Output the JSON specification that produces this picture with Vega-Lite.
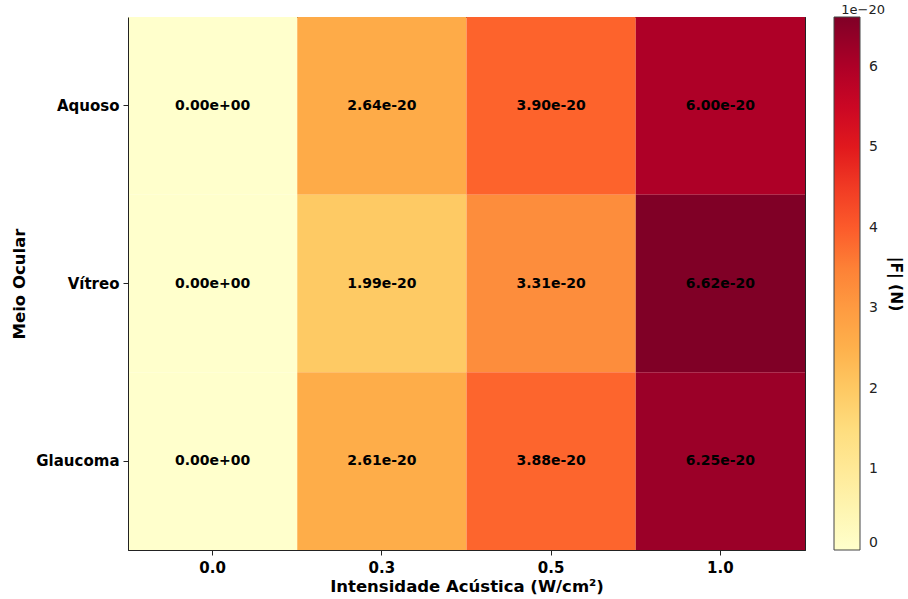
{
  "$schema": "https://vega.github.io/schema/vega-lite/v6.json",
  "autosize": {"type": "none"},
  "padding": {"left": 128, "top": 17, "right": 103, "bottom": 49},
  "width": 677,
  "height": 533,
  "background": "white",
  "config": {
    "font": "DejaVu Sans",
    "view": {"stroke": "#222222", "strokeWidth": 1}
  },
  "title": {
    "text": "1e−20",
    "anchor": "end",
    "frame": "group",
    "dx": 80,
    "offset": 0,
    "fontSize": 13,
    "fontWeight": "normal",
    "color": "#222222",
    "font": "DejaVu Sans"
  },
  "data": {
    "values": [
      {"meio": "Aquoso", "intensidade": "0.0", "F": 0},
      {"meio": "Aquoso", "intensidade": "0.3", "F": 2.64e-20},
      {"meio": "Aquoso", "intensidade": "0.5", "F": 3.90e-20},
      {"meio": "Aquoso", "intensidade": "1.0", "F": 6.00e-20},
      {"meio": "Vítreo", "intensidade": "0.0", "F": 0},
      {"meio": "Vítreo", "intensidade": "0.3", "F": 1.99e-20},
      {"meio": "Vítreo", "intensidade": "0.5", "F": 3.31e-20},
      {"meio": "Vítreo", "intensidade": "1.0", "F": 6.62e-20},
      {"meio": "Glaucoma", "intensidade": "0.0", "F": 0},
      {"meio": "Glaucoma", "intensidade": "0.3", "F": 2.61e-20},
      {"meio": "Glaucoma", "intensidade": "0.5", "F": 3.88e-20},
      {"meio": "Glaucoma", "intensidade": "1.0", "F": 6.25e-20}
    ]
  },
  "transform": [
    {"calculate": "replace(format(datum.F, '.2e'), 'e+0', 'e+00')", "as": "label"}
  ],
  "layer": [
    {
      "mark": {"type": "rect"},
      "encoding": {
        "x": {
          "field": "intensidade",
          "type": "ordinal",
          "sort": ["0.0", "0.3", "0.5", "1.0"],
          "scale": {"paddingInner": 0, "paddingOuter": 0},
          "axis": {
            "orient": "bottom",
            "title": "Intensidade Acústica (W/cm²)",
            "titleFontSize": 16.5,
            "titleFontWeight": "bold",
            "titleColor": "#000000",
            "titlePadding": 3,
            "labelAngle": 0,
            "labelFontSize": 15,
            "labelFontWeight": "bold",
            "labelColor": "#000000",
            "labelPadding": 5,
            "tickSize": 5,
            "tickColor": "#222222",
            "domain": true,
            "domainColor": "#222222"
          }
        },
        "y": {
          "field": "meio",
          "type": "ordinal",
          "sort": ["Aquoso", "Vítreo", "Glaucoma"],
          "scale": {"paddingInner": 0, "paddingOuter": 0},
          "axis": {
            "orient": "left",
            "title": "Meio Ocular",
            "titleFontSize": 16.5,
            "titleFontWeight": "bold",
            "titleColor": "#000000",
            "titlePadding": 8,
            "labelFontSize": 15,
            "labelFontWeight": "bold",
            "labelColor": "#000000",
            "labelPadding": 4,
            "tickSize": 5,
            "tickColor": "#222222",
            "domain": true,
            "domainColor": "#222222"
          }
        },
        "color": {
          "field": "F",
          "type": "quantitative",
          "scale": {
            "domain": [0, 0.8275e-20, 1.655e-20, 2.4825e-20, 3.31e-20, 4.1375e-20, 4.965e-20, 5.7925e-20, 6.62e-20],
            "range": ["#ffffcc", "#ffeda0", "#fed976", "#feb24c", "#fd8d3c", "#fc4e2a", "#e31a1c", "#bd0026", "#800026"]
          },
          "legend": {
            "title": "|F| (N)",
            "titleOrient": "right",
            "titleAngle": 90,
            "titleAnchor": "middle",
            "titleFontSize": 15.5,
            "titleFontWeight": "bold",
            "titleColor": "#000000",
            "titlePadding": 10,
            "gradientLength": 533,
            "gradientThickness": 26,
            "gradientStrokeColor": "#444444",
            "gradientStrokeWidth": 1,
            "offset": 29,
            "values": [0, 1e-20, 2e-20, 3e-20, 4e-20, 5e-20, 6e-20],
            "labelExpr": "format(datum.value * 1e20, '.0f')",
            "labelFontSize": 14,
            "labelColor": "#222222",
            "labelOffset": 9,
            "labelOverlap": false
          }
        }
      }
    },
    {
      "mark": {"type": "text", "fontSize": 14, "fontWeight": "bold", "color": "#000000"},
      "encoding": {
        "x": {
          "field": "intensidade",
          "type": "ordinal",
          "sort": ["0.0", "0.3", "0.5", "1.0"],
          "axis": {"orient": "top", "title": null, "labels": false, "ticks": false, "domain": true, "domainColor": "#222222", "grid": false}
        },
        "y": {
          "field": "meio",
          "type": "ordinal",
          "sort": ["Aquoso", "Vítreo", "Glaucoma"],
          "axis": {"orient": "right", "title": null, "labels": false, "ticks": false, "domain": true, "domainColor": "#222222", "grid": false}
        },
        "text": {"field": "label", "type": "nominal"}
      }
    }
  ],
  "resolve": {"axis": {"x": "independent", "y": "independent"}}
}
